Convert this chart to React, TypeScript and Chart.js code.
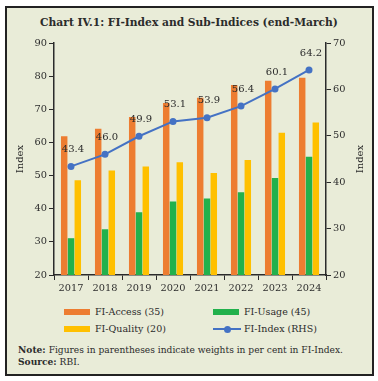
import React, { useEffect, useRef } from "react";
import { Chart, registerables } from "chart.js";
Chart.register(...registerables);

const years = ["2017", "2018", "2019", "2020", "2021", "2022", "2023", "2024"];
const fiAccess = [61.9, 64.1, 67.7, 71.9, 73.5, 77.3, 78.6, 79.5];
const fiUsage = [31.1, 33.8, 38.9, 42.2, 43.1, 45.0, 49.3, 55.7];
const fiQuality = [48.6, 51.5, 52.7, 54.0, 50.8, 54.7, 62.9, 66.0];
const fiIndex = [43.4, 46.0, 49.9, 53.1, 53.9, 56.4, 60.1, 64.2];

const leftMin = 20;
const leftMax = 90;
const rightMin = 20;
const rightMax = 70;

const SERIF = "'DejaVu Serif', serif";
const TEXT = "#2b2b2b";
const ORANGE = "#ED7D31";
const GREEN = "#22B14C";
const YELLOW = "#FFC000";
const BLUE = "#4472C4";
const BG = "rgb(233,236,216)";
const CANVAS_TOP = 30;

const overlayPlugin = {
  id: "overlay",
  afterDatasetsDraw(chart: any) {
    const ctx = chart.ctx;
    const meta = chart.getDatasetMeta(0);
    ctx.save();
    ctx.font = `10px ${SERIF}`;
    ctx.fillStyle = TEXT;
    ctx.textAlign = "center";
    ctx.textBaseline = "middle";
    meta.data.forEach((pt: any, i: number) => {
      ctx.fillText(fiIndex[i].toFixed(1), pt.x + 2, pt.y - 17);
    });
    const midY = (chart.chartArea.top + chart.chartArea.bottom) / 2;
    ctx.font = `10px ${SERIF}`;
    [20, 360].forEach((x) => {
      ctx.save();
      ctx.translate(x, midY);
      ctx.rotate(-Math.PI / 2);
      ctx.fillText("Index", 0, 0);
      ctx.restore();
    });
    ctx.restore();
  },
};

function ChartView() {
  const ref = useRef<HTMLCanvasElement | null>(null);
  useEffect(() => {
    if (!ref.current) return;
    const tickFont = { family: SERIF, size: 9.8 };
    const chart = new Chart(ref.current, {
      type: "bar",
      data: {
        labels: years,
        datasets: [
          {
            type: "line",
            label: "FI-Index (RHS)",
            data: fiIndex,
            yAxisID: "y1",
            borderColor: BLUE,
            backgroundColor: BLUE,
            borderWidth: 2,
            pointRadius: 3.5,
            pointBackgroundColor: BLUE,
            pointBorderWidth: 0,
            tension: 0,
            order: 0,
          } as any,
          {
            label: "FI-Access (35)",
            data: fiAccess,
            backgroundColor: ORANGE,
            yAxisID: "y",
            order: 1,
          },
          {
            label: "FI-Usage (45)",
            data: fiUsage,
            backgroundColor: GREEN,
            yAxisID: "y",
            order: 1,
          },
          {
            label: "FI-Quality (20)",
            data: fiQuality,
            backgroundColor: YELLOW,
            yAxisID: "y",
            order: 1,
          },
        ],
      },
      options: {
        animation: false,
        responsive: false,
        maintainAspectRatio: false,
        layout: { padding: { top: 13, left: 0, right: 0, bottom: 0 } },
        datasets: {
          bar: { categoryPercentage: 0.6, barPercentage: 0.95 },
        } as any,
        plugins: {
          legend: { display: false },
          tooltip: { enabled: false },
          title: { display: false },
        },
        scales: {
          x: {
            offset: true,
            grid: {
              offset: true,
              drawOnChartArea: false,
              drawTicks: true,
              tickLength: 5,
              color: TEXT,
            },
            border: { display: true, color: TEXT, width: 1.5 },
            ticks: { color: TEXT, font: tickFont, padding: 3, maxRotation: 0 },
            afterFit: (s: any) => {
              s.height = 25;
            },
          },
          y: {
            position: "left",
            min: leftMin,
            max: leftMax,
            grid: {
              drawOnChartArea: false,
              drawTicks: true,
              tickLength: 5,
              color: TEXT,
            },
            border: { display: true, color: TEXT, width: 1.5 },
            ticks: { stepSize: 10, color: TEXT, font: tickFont, padding: 2 },
            afterFit: (s: any) => {
              s.width = 54;
            },
          },
          y1: {
            position: "right",
            min: rightMin,
            max: rightMax,
            grid: {
              drawOnChartArea: false,
              drawTicks: true,
              tickLength: 5,
              color: TEXT,
            },
            border: { display: true, color: TEXT, width: 1.5 },
            ticks: { stepSize: 10, color: TEXT, font: tickFont, padding: 2 },
            afterFit: (s: any) => {
              s.width = 52;
            },
          },
        },
      },
      plugins: [overlayPlugin],
    });
    return () => chart.destroy();
  }, []);
  return (
    <canvas
      ref={ref}
      width={378}
      height={270}
      style={{ position: "absolute", left: 0, top: CANVAS_TOP, width: 378, height: 270 }}
    />
  );
}

const legendItems = [
  { label: "FI-Access (35)", color: ORANGE, kind: "bar", x: 64, y: 312 },
  { label: "FI-Usage (45)", color: GREEN, kind: "bar", x: 213, y: 312 },
  { label: "FI-Quality (20)", color: YELLOW, kind: "bar", x: 64, y: 329 },
  { label: "FI-Index (RHS)", color: BLUE, kind: "line", x: 213, y: 329 },
];

export default function App() {
  return (
    <div
      style={{
        position: "absolute",
        left: 0,
        top: 0,
        width: 378,
        height: 381,
        background: "#fff",
        fontFamily: SERIF,
        color: TEXT,
      }}
    >
      <div
        style={{
          position: "absolute",
          left: 5,
          top: 6,
          width: 365,
          height: 366,
          background: BG,
          border: "2px solid #222",
        }}
      />
      <div
        style={{
          position: "absolute",
          left: 0,
          top: 15,
          width: 378,
          textAlign: "center",
          fontWeight: "bold",
          fontSize: 10.7,
          lineHeight: "16px",
        }}
      >
        Chart IV.1: FI-Index and Sub-Indices (end-March)
      </div>
      <ChartView />
      {legendItems.map((it) => (
        <div key={it.label}>
          {it.kind === "bar" ? (
            <div
              style={{
                position: "absolute",
                left: it.x,
                top: it.y - 3,
                width: 26,
                height: 6,
                background: it.color,
              }}
            />
          ) : (
            <>
              <div
                style={{
                  position: "absolute",
                  left: it.x,
                  top: it.y - 1,
                  width: 28,
                  height: 2,
                  background: it.color,
                }}
              />
              <div
                style={{
                  position: "absolute",
                  left: it.x + 14 - 3.5,
                  top: it.y - 3.5,
                  width: 7,
                  height: 7,
                  borderRadius: "50%",
                  background: it.color,
                }}
              />
            </>
          )}
          <div
            style={{
              position: "absolute",
              left: it.x + 31,
              top: it.y - 7,
              fontSize: 9.5,
              lineHeight: "14px",
              whiteSpace: "nowrap",
            }}
          >
            {it.label}
          </div>
        </div>
      ))}
      <div
        style={{
          position: "absolute",
          left: 18,
          top: 344,
          fontSize: 9.1,
          lineHeight: "12px",
          whiteSpace: "nowrap",
        }}
      >
        <div>
          <b>Note:</b> Figures in parentheses indicate weights in per cent in FI-Index.
        </div>
        <div>
          <b>Source:</b> RBI.
        </div>
      </div>
    </div>
  );
}
